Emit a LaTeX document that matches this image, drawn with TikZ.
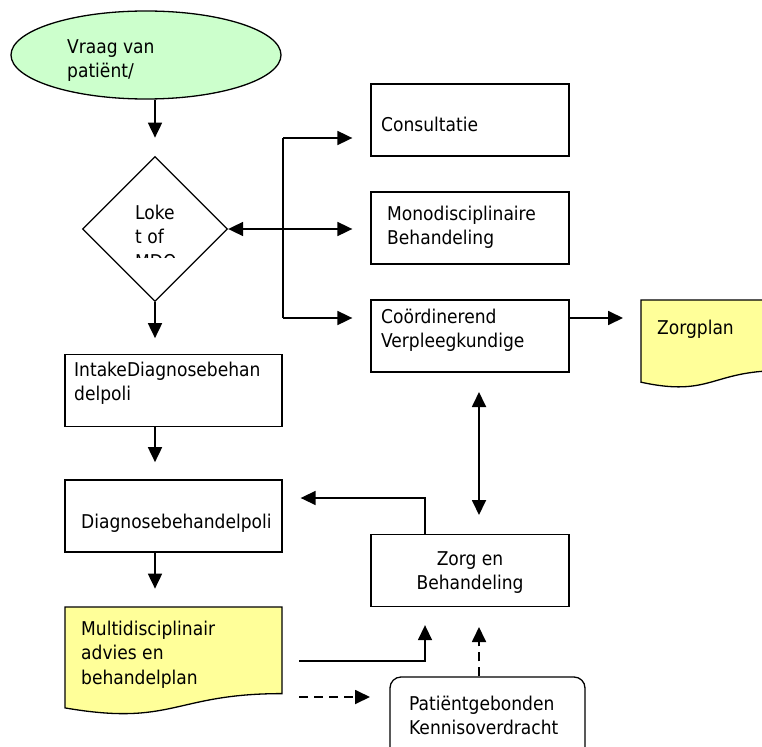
\documentclass[tikz,border=0pt]{standalone}
\usepackage{fontspec}
\setmainfont{DejaVu Sans Condensed}
\usetikzlibrary{arrows.meta,shapes.geometric,calc}
\definecolor{lgreen}{HTML}{CCFFCC}
\definecolor{lyellow}{HTML}{FFFF99}
\begin{document}
\begin{tikzpicture}[x=1pt,y=-1pt,
  box/.style={draw,line width=1.3pt,rectangle,inner sep=0pt,minimum width=198pt,minimum height=72pt},
  txt/.style={inner sep=0pt,anchor=base west,align=left,font=\fontsize{19}{24.5}\selectfont},
  ctxt/.style={inner sep=0pt,anchor=base,align=center,font=\fontsize{19}{24.5}\selectfont},
  arr/.style={line width=1.8pt,-{Triangle[length=15pt,width=14pt]}},
  barr/.style={line width=1.8pt,{Triangle[length=15pt,width=14pt]}-{Triangle[length=15pt,width=14pt]}},
  thin/.style={line width=1.3pt},
]
\useasboundingbox (0,0) rectangle (762,746);
% start ellipse
\node[ellipse,draw,line width=1.3pt,fill=lgreen,minimum width=270pt,minimum height=88pt,inner sep=0pt] (ell) at (146,55) {};
\node[txt] (ellT) at (67,78) {Vraag van\\patiënt/};
% diamond
\node[diamond,draw,line width=1.3pt,minimum width=145pt,minimum height=145pt,inner sep=0pt] (dia) at (155,229) {};
\begin{scope}
\clip (100,190) rectangle (220,257);
\node[txt] (diaT) at (135,268) {Loke\\t of\\MDO};
\end{scope}
% right boxes
\node[box] (cons) at (470,120) {};
\node[txt] (consT) at (381,132) {Consultatie};
\node[box] (mono) at (470,228) {};
\node[txt] (monoT) at (387,244.5) {Monodisciplinaire\\Behandeling};
\node[box] (coord) at (470,336) {};
\node[txt] (coordT) at (381,347.5) {Coördinerend\\Verpleegkundige};
% zorgplan document
\draw[thin,fill=lyellow] (641,300) -- (781,300) -- (781,370.6) .. controls (711,370.6) and (711,397.4) .. (641,382.2) -- cycle;
\node[txt] (zpT) at (657,334) {Zorgplan};
% left column
\node[box,minimum width=217pt] (intake) at (173.5,390.5) {};
\node[txt] (intakeT) at (74,400.5) {IntakeDiagnosebehan\\delpoli};
\node[box,minimum width=217pt] (diag) at (173.5,516) {};
\node[txt] (diagT) at (81,528) {Diagnosebehandelpoli};
\draw[thin,fill=lyellow] (65,607) -- (282,607) -- (282,693.6) .. controls (173.5,693.6) and (173.5,726.6) .. (65,707.9) -- cycle;
\node[txt] (multiT) at (81,684) {Multidisciplinair\\advies en\\behandelplan};
% zorg en behandeling
\node[box] (zorg) at (470,570.5) {};
\node[ctxt] (zorgT) at (470,589.5) {Zorg en\\Behandeling};
% patientgebonden
\node[draw,line width=1.3pt,rounded corners=11pt,minimum width=195pt,minimum height=90pt,inner sep=0pt] (pat) at (487.5,722) {};
\node[txt] (patT) at (409,734.5) {Patiëntgebonden\\Kennisoverdracht};
% connectors
\draw[arr] (ell.south -| dia.north) -- ++(0,38);
\draw[barr] (dia.east) -- ($(mono.west |- dia.east)+(-18,0)$);
\coordinate (j1) at (283,138);
\coordinate (j3) at (283,318);
\draw[line width=1.8pt] (j1) -- (j3);
\draw[arr] (j1) -- ($(cons.west |- j1)+(-18,0)$);
\draw[arr] (j3) -- ($(coord.west |- j3)+(-18,0)$);
\draw[arr] (dia.south) -- ++(0,36);
\draw[arr] (intake.south -| dia.south) -- ++(0,35);
\draw[arr] (diag.south -| dia.south) -- ++(0,36);
\draw[arr] (coord.east |- j3) -- (623,318);
\draw[arr,line width=1.6pt] (425,534) -- (425,498) -- ($(diag.east |- 0,498)+(18,0)$);
\draw[barr] (479,392) -- (479,515);
\draw[arr,line width=1.5pt] (299,661) -- (425,661) -- ($(zorg.south -| 425,0)+(0,18)$);
\draw[arr,dashed,dash pattern=on 9pt off 6pt] (299,697) -- (370,697);
\draw[arr,dashed,dash pattern=on 9pt off 6pt] (pat.north -| 479,0) -- (479,627);
\end{tikzpicture}
\end{document}
